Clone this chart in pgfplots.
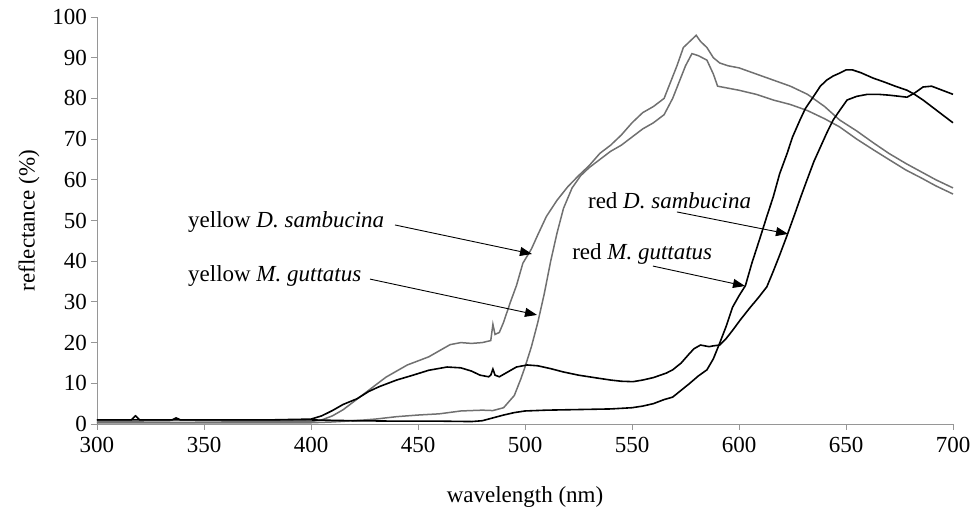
\documentclass[border=0pt]{standalone}
\usepackage{fontspec}
\setmainfont{Liberation Serif}
\usepackage{pgfplots}
\pgfplotsset{compat=1.18}
\usetikzlibrary{arrows.meta}
\definecolor{ygray}{RGB}{112,112,112}
\definecolor{axgray}{RGB}{150,150,150}
\newcommand{\bigf}{\fontsize{23}{27}\selectfont}
\begin{document}
\begin{tikzpicture}
\begin{axis}[
  scale only axis, width=856pt, height=407pt,
  xmin=300, xmax=700, ymin=0, ymax=100,
  xtick={300,350,...,700}, ytick={0,10,...,100},
  axis x line*=bottom, axis y line*=left,
  axis line style={draw=axgray, line width=0.8pt},
  tick style={draw=axgray, line width=0.8pt},
  tick align=outside, major tick length=6pt,
  /pgf/number format/assume math mode=true,
  tick label style={font=\bigf},
  xticklabel style={inner sep=0pt, yshift=-7pt},
  yticklabel style={inner sep=0pt, xshift=-4pt},
  label style={font=\bigf},
  xlabel={wavelength (nm)}, ylabel={reflectance (\%)},
  xlabel style={at={(rel axis cs:0.5,0)}, anchor=center, yshift=-73pt, inner sep=0pt},
  ylabel style={at={(rel axis cs:0,0.5)}, anchor=center, yshift=68pt, inner sep=0pt},
  clip=false,
]
% yellow D. sambucina
\addplot[ygray, line width=1.5pt] coordinates {
(300,0.5)(320,0.5)(340,0.4)(360,0.5)(380,0.5)(400,0.6)(405,1)(410,2)(415,3.5)(420,5.5)(425,7.5)(430,9.5)(435,11.5)(440,13)(445,14.5)(450,15.5)(455,16.5)(460,18)(465,19.5)(470,20)(475,19.8)(480,20)(484,20.5)(485,24.5)(486,22)(488,22.5)(490,25)(493,29.7)(496,34)(499,39.5)(503,43)(506,46.5)(510,51)(515,55)(520,58.3)(525,61)(530,63.5)(535,66.5)(540,68.5)(545,71)(550,74)(555,76.5)(560,78)(565,80)(568,84)(571,88)(574,92.5)(577,94)(580,95.5)(582,94)(585,92.5)(588,90)(591,88.7)(595,88)(600,87.5)(608,86)(616,84.5)(624,83)(632,81)(640,78)(647,74.7)(655,72)(663,69)(670,66.5)(678,64)(685,62)(692,60)(700,58)
};
% yellow M. guttatus
\addplot[ygray, line width=1.5pt] coordinates {
(300,0.3)(350,0.3)(400,0.3)(410,0.5)(420,0.8)(430,1.2)(440,1.8)(450,2.2)(460,2.5)(470,3.2)(480,3.4)(485,3.3)(490,4)(495,7)(498,11)(500,14)(503,19)(506,25)(509,32)(512,40)(515,47)(518,53)(522,58)(526,61)(530,63)(535,65)(540,67)(545,68.5)(550,70.5)(555,72.5)(560,74)(565,76)(569,80)(572,84)(575,88)(578,91)(581,90.5)(585,89.4)(588,86)(590,83)(595,82.5)(600,82)(608,81)(616,79.6)(624,78.5)(632,77)(640,75)(647,73)(655,70)(663,67.3)(670,65)(678,62.4)(685,60.5)(692,58.5)(700,56.5)
};
% red M. guttatus
\addplot[black, line width=1.6pt] coordinates {
(300,1)(350,1)(400,1)(420,0.8)(440,0.7)(460,0.7)(475,0.6)(480,0.8)(485,1.5)(490,2.2)(495,2.8)(500,3.2)(510,3.4)(520,3.5)(530,3.6)(540,3.7)(550,4)(555,4.4)(560,5)(565,6)(569,6.6)(573,8.3)(577,10)(581,11.8)(585,13.3)(588,16)(591,19.9)(594,24)(597,28.7)(600,31.5)(603,34)(606,39.5)(610,46)(613,51)(616,55.8)(619,61.5)(622.5,66.5)(625,70.5)(628.5,74.7)(631,77.5)(634.6,80.3)(638,83)(641,84.5)(644,85.5)(647,86.2)(650,87)(653,87)(657,86.3)(662.6,85)(668,84)(673,83)(678.5,82)(682,81)(686,79.6)(690,78)(695,76)(700,74)
};
% red D. sambucina
\addplot[black, line width=1.6pt] coordinates {
(300,1)(316,1)(318,2)(320,1)(335,1)(337,1.5)(339,1)(360,1)(380,1)(400,1.2)(405,2)(410,3.3)(415,4.8)(421.5,6.2)(427,8)(432,9.2)(440,10.8)(447.7,12)(455,13.2)(463.6,14)(470,13.8)(475,13)(479,12)(483,11.6)(484,12)(485,13.5)(486,12)(488,11.6)(492,12.8)(496,14)(501,14.5)(506,14.3)(512,13.6)(517.8,12.8)(525,12)(533.6,11.3)(540,10.8)(545,10.5)(550.5,10.4)(555,10.8)(560,11.4)(566,12.5)(569,13.3)(573,15)(577,17.4)(579,18.5)(582,19.4)(586,19)(588,19.2)(591,19.4)(594,21)(597,23)(600.5,25.5)(605,28.5)(609,31)(613,33.7)(616,37.5)(619,41.5)(622.5,46.4)(626,51.5)(629,56)(631.8,60)(635,64.5)(638,68)(641,71.5)(644,74.7)(647,77)(650.5,79.6)(655,80.5)(660,81)(665,81)(670,80.8)(678.5,80.3)(682,81.3)(686,82.8)(690,83)(695,82)(700,81)
};
% annotations
\node[font=\bigf, anchor=base west, inner sep=0pt] at (axis cs:342.5,48.16) {yellow \textit{D. sambucina}};
\node[font=\bigf, anchor=base west, inner sep=0pt] at (axis cs:342.5,34.96) {yellow \textit{M. guttatus}};
\node[font=\bigf, anchor=base west, inner sep=0pt] at (axis cs:529.4,53.0) {red \textit{D. sambucina}};
\node[font=\bigf, anchor=base west, inner sep=0pt] at (axis cs:522.0,40.3) {red \textit{M. guttatus}};
\draw[line width=0.9pt, -{Triangle[length=12pt,width=9pt]}] (axis cs:439.25,48.9) -- (axis cs:503.27,41.77);
\draw[line width=0.9pt, -{Triangle[length=12pt,width=9pt]}] (axis cs:427.6,35.6) -- (axis cs:505.6,26.8);
\draw[line width=0.9pt, -{Triangle[length=12pt,width=9pt]}] (axis cs:571.0,52.1) -- (axis cs:622.9,46.7);
\draw[line width=0.9pt, -{Triangle[length=12pt,width=9pt]}] (axis cs:559.8,38.8) -- (axis cs:602.8,33.9);
\end{axis}
\pgfresetboundingbox
\path[use as bounding box] (current axis.south west) ++(-97pt,-86pt) rectangle ++(974pt,510pt);
\end{tikzpicture}
\end{document}
